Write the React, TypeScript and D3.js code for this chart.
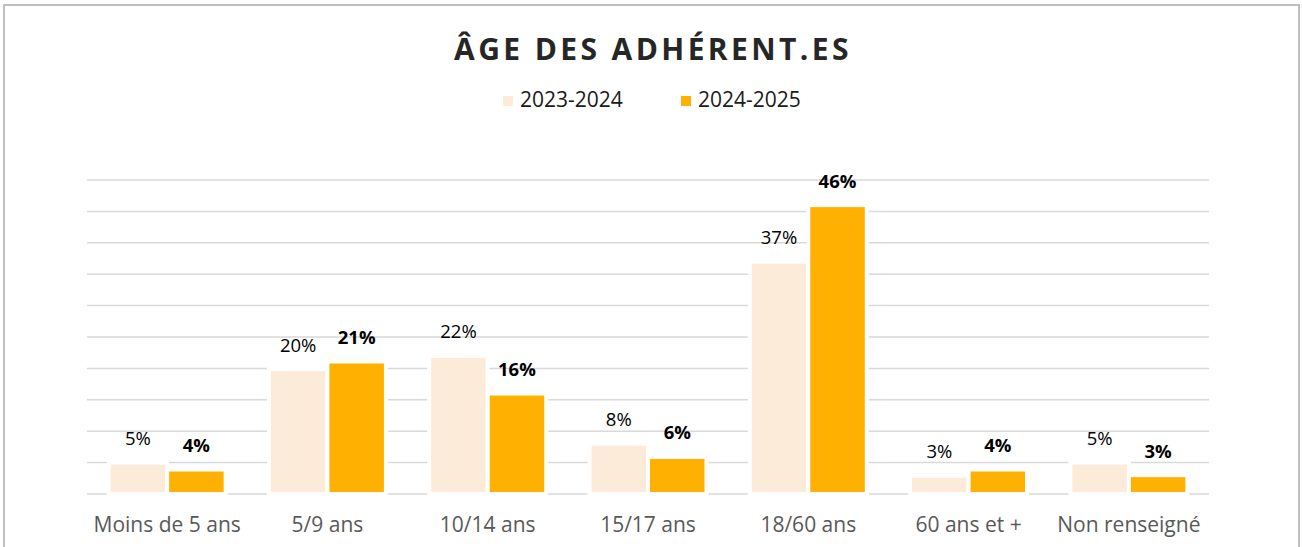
import React from "react";
import * as d3 from "d3";

const categories = ["Moins de 5 ans", "5/9 ans", "10/14 ans", "15/17 ans", "18/60 ans", "60 ans et +", "Non renseigné"];
const series = ["2023-2024", "2024-2025"];
const values2023 = [5.0, 19.9, 22.0, 8.0, 37.0, 2.9, 5.0];
const values2024 = [3.9, 21.1, 16.0, 5.9, 46.0, 3.9, 3.0];
const labels2023 = ["5%", "20%", "22%", "8%", "37%", "3%", "5%"];
const labels2024 = ["4%", "21%", "16%", "6%", "46%", "4%", "3%"];
const gridTicks = [0, 5, 10, 15, 20, 25, 30, 35, 40, 45, 50];
const colors = ["#FDEBDA", "#FFB000"];

const W = 1302;
const H = 547;
const FONT = "'Open Sans', sans-serif";

export default function App() {
  const x0 = d3.scaleBand<string>().domain(categories).range([87, 1209]).paddingInner(0).paddingOuter(0);
  const groupW = 117;
  const x1 = d3.scaleBand<string>().domain(series).range([0, groupW]).padding(0);
  const y = d3.scaleLinear().domain([0, 50]).range([494, 180]);
  const all = [values2023, values2024];
  const labs = [labels2023, labels2024];

  return (
    <div style={{ position: "absolute", left: 0, top: 0 }}>
      <svg width={W} height={H} style={{ display: "block", fontFamily: FONT }}>
        <rect x={0} y={0} width={W} height={H} fill="#fff" />
        <rect x={4} y={5} width={1295} height={600} fill="#fff" stroke="#BFBFBF" strokeWidth={2} />
        <text x={653} y={60} textAnchor="middle" fontSize={30} fontWeight={700} letterSpacing={3.4} fill="#262626">
          ÂGE DES ADHÉRENT.ES
        </text>
        {/* legend */}
        {series.map((s, i) => {
          const lx = i === 0 ? 503 : 681;
          return (
            <g key={s}>
              <rect x={lx} y={96} width={10} height={10} fill={colors[i]} />
              <text x={lx + 17} y={107} fontSize={21} fill="#1a1a1a">{s}</text>
            </g>
          );
        })}
        {/* gridlines */}
        {gridTicks.map((t) => (
          <line key={t} x1={87} x2={1209} y1={y(t)} y2={y(t)} stroke="#D9D9D9" strokeWidth={1.5} />
        ))}
        {/* bars */}
        {categories.map((c, ci) => {
          const gx = (x0(c) as number) + x0.bandwidth() / 2 - groupW / 2;
          return (
            <g key={c}>
              {series.map((s, si) => {
                const v = all[si][ci];
                const bx = gx + (x1(s) as number);
                return (
                  <rect key={s} x={bx} y={y(v)} width={x1.bandwidth()} height={y(0) - y(v)}
                    fill={colors[si]} stroke="#fff" strokeWidth={4} />
                );
              })}
            </g>
          );
        })}
        {/* labels */}
        {categories.map((c, ci) => {
          const gx = (x0(c) as number) + x0.bandwidth() / 2 - groupW / 2;
          return (
            <g key={c + "l"}>
              {series.map((s, si) => {
                const v = all[si][ci];
                const cx = gx + (x1(s) as number) + x1.bandwidth() / 2;
                return (
                  <text key={s} x={cx} y={y(v) - 17.5} textAnchor="middle" fontSize={18.5}
                    fontWeight={si === 1 ? 700 : 400} fill="#000">
                    {labs[si][ci]}
                  </text>
                );
              })}
              <text x={(x0(c) as number) + x0.bandwidth() / 2} y={532} textAnchor="middle" fontSize={21} fill="#595959">
                {c}
              </text>
            </g>
          );
        })}
      </svg>
    </div>
  );
}
